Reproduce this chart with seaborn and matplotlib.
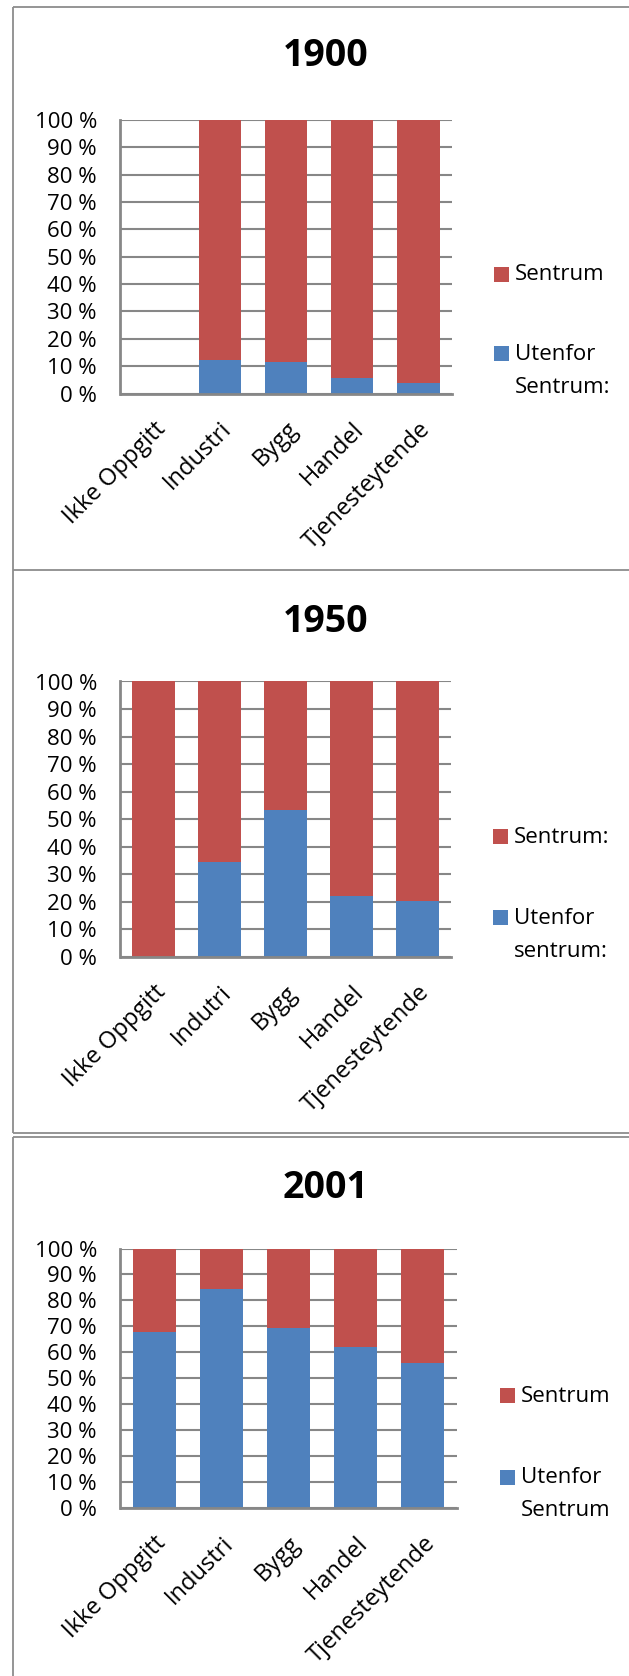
import matplotlib
matplotlib.use("Agg")
import matplotlib.pyplot as plt
from matplotlib.lines import Line2D
from matplotlib.patches import Rectangle
import pandas as pd
import seaborn as sns

# Sector categories (spelling as labelled in each year's chart)
categories_1900 = ["Ikke Oppgitt", "Industri", "Bygg", "Handel", "Tjenesteytende"]
categories_1950 = ["Ikke Oppgitt", "Indutri", "Bygg", "Handel", "Tjenesteytende"]
categories_2001 = ["Ikke Oppgitt", "Industri", "Bygg", "Handel", "Tjenesteytende"]

# Share of workplaces (%) outside / inside the centre
utenfor_1900 = [0.0, 12.2, 11.7, 5.6, 3.7]
sentrum_1900 = [0.0, 87.8, 88.3, 94.4, 96.3]
utenfor_1950 = [0.0, 34.4, 53.3, 22.1, 20.4]
sentrum_1950 = [100.0, 65.6, 46.7, 77.9, 79.6]
utenfor_2001 = [67.7, 84.3, 69.2, 62.1, 56.0]
sentrum_2001 = [32.3, 15.7, 30.8, 37.9, 44.0]

# Series names as written in each chart's legend
legend_1900 = ["Sentrum", "Utenfor\nSentrum:"]
legend_1950 = ["Sentrum:", "Utenfor\nsentrum:"]
legend_2001 = ["Sentrum", "Utenfor\nSentrum"]

titles = ["1900", "1950", "2001"]
y_ticks = [0, 10, 20, 30, 40, 50, 60, 70, 80, 90, 100]
y_tick_labels = [f"{v} %" for v in y_ticks]

RED = "#C0504D"
BLUE = "#4F81BD"
GRID = "#878787"
FRAME = "#8C8C8C"

sns.set_theme(style="white")
plt.rcParams["font.family"] = ["Open Sans", "DejaVu Sans"]

LABEL_SIZE = 16
XLABEL_SIZE = 17
TITLE_SIZE = 27

W, H = 629, 1676
fig = plt.figure(figsize=(W / 100, H / 100), dpi=100)
fig.patch.set_facecolor("white")


def fx(x):
    return x / W


def fy(y):
    return 1 - y / H


def hline(x0, x1, y):
    fig.add_artist(Line2D([fx(x0), fx(x1)], [fy(y), fy(y)], transform=fig.transFigure,
                          color=FRAME, lw=1.3, solid_capstyle="butt"))


def vline(x, y0, y1):
    fig.add_artist(Line2D([fx(x), fx(x)], [fy(y0), fy(y1)], transform=fig.transFigure,
                          color=FRAME, lw=1.3, solid_capstyle="butt"))


# chart frames (right side runs past the page edge)
hline(12.7, 640, 7.3)
hline(12.7, 640, 570)
hline(12.7, 640, 1133)
hline(12.7, 640, 1137)
vline(12.7, 7.3, 1133)
vline(12.7, 1137, 1690)

panels = [
    dict(title=titles[0], cats=categories_1900, ut=utenfor_1900, se=sentrum_1900, leg=legend_1900,
         box=(120.5, 120.0, 451.5, 393.5), title_y=56.5, leg_x=494.0, leg_y=(274.5, 354.0)),
    dict(title=titles[1], cats=categories_1950, ut=utenfor_1950, se=sentrum_1950, leg=legend_1950,
         box=(120.5, 681.5, 450.5, 957.0), title_y=621.5, leg_x=493.3, leg_y=(836.5, 917.5)),
    dict(title=titles[2], cats=categories_2001, ut=utenfor_2001, se=sentrum_2001, leg=legend_2001,
         box=(120.5, 1248.5, 456.5, 1508.0), title_y=1188.0, leg_x=500.0, leg_y=(1395.5, 1477.0)),
]

for p in panels:
    left, top, right, bottom = p["box"]
    ax = fig.add_axes([fx(left), fy(bottom), (right - left) / W, (bottom - top) / H])
    df = pd.DataFrame({
        "kategori": p["cats"],
        "utenfor": p["ut"],
        "total": [u + s for u, s in zip(p["ut"], p["se"])],
    })
    # stacked columns: full column in red, outside-centre share in blue at the base
    sns.barplot(data=df, x="kategori", y="total", order=p["cats"], color=RED,
                saturation=1, width=0.64, errorbar=None, linewidth=0, ax=ax)
    sns.barplot(data=df, x="kategori", y="utenfor", order=p["cats"], color=BLUE,
                saturation=1, width=0.64, errorbar=None, linewidth=0, ax=ax)

    ax.set_xlim(-0.5, len(p["cats"]) - 0.5)
    ax.set_ylim(0, 100)
    ax.set_yticks(y_ticks)
    ax.set_yticklabels(y_tick_labels, fontsize=LABEL_SIZE, color="black")
    ax.set_xticks(range(len(p["cats"])))
    ax.set_xticklabels(p["cats"], rotation=45, ha="right", rotation_mode="anchor",
                       fontsize=XLABEL_SIZE, color="black")
    ax.tick_params(axis="y", length=0, pad=17)
    ax.tick_params(axis="x", length=0, pad=17)
    ax.set_xlabel("")
    ax.set_ylabel("")

    ax.set_axisbelow(True)
    ax.yaxis.grid(True, color=GRID, lw=1.5)
    ax.xaxis.grid(False)
    for side in ("top", "right"):
        ax.spines[side].set_visible(False)
    for side in ("left", "bottom"):
        ax.spines[side].set_color(GRID)
        ax.spines[side].set_linewidth(2.0)
    ax.set_facecolor("white")

    fig.text(fx(326), fy(p["title_y"]), p["title"], fontsize=TITLE_SIZE, fontweight="bold",
             ha="center", va="center", color="black")

    # legend: Sentrum on top, Utenfor sentrum below
    for label, color, cy in zip(p["leg"], [RED, BLUE], p["leg_y"]):
        sq = 15.0
        fig.add_artist(Rectangle((fx(p["leg_x"]), fy(cy + sq / 2)), sq / W, sq / H,
                                 transform=fig.transFigure, facecolor=color, edgecolor="none"))
        fig.text(fx(p["leg_x"] + sq + 6.0), fy(cy - 10.0), label, fontsize=LABEL_SIZE,
                 ha="left", va="top", linespacing=1.75, color="black")

fig.savefig("out.png", dpi=100, facecolor="white")
